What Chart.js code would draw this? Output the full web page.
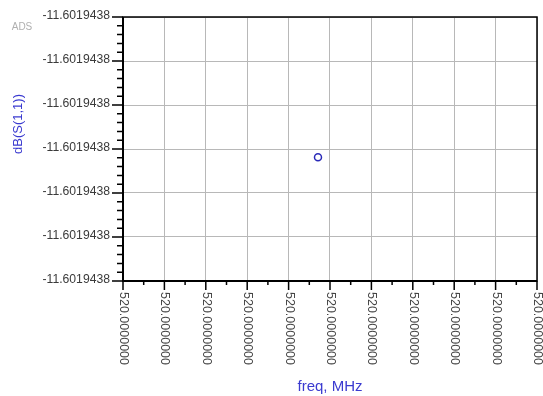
<!DOCTYPE html>
<html>
<head>
<meta charset="utf-8">
<script src="https://cdn.jsdelivr.net/npm/chart.js@4"></script>
<style>
  html, body { margin: 0; padding: 0; background: #fff; }
  #wrap { width: 543px; height: 396px; }
</style>
</head>
<body>
<div id="wrap"><canvas id="c" width="543" height="396"></canvas></div>
<script>
// data
const freq = [520.0];
const dB = [-11.6019438];

// tick labels as printed on the axes
const xTickLabels = ["520.0000000", "520.0000000", "520.0000000", "520.0000000", "520.0000000", "520.0000000",
  "520.0000000", "520.0000000", "520.0000000", "520.0000000", "520.0000000"];
const yTickLabels = ["-11.6019438", "-11.6019438", "-11.6019438", "-11.6019438", "-11.6019438", "-11.6019438", "-11.6019438"];

// axis ranges (tiny spans, the labels are all rounded to the same value)
const xMin = 520.0 - 4.71e-9, xMax = 520.0 + 5.29e-9;
const yMin = -11.6019438 - 2.81e-9, yMax = -11.6019438 + 3.19e-9;

const FONT = "'Liberation Sans', Arial, sans-serif";

function evenTicks(min, max, n) {
  const out = [];
  for (let i = 0; i < n; i++) out.push({ value: min + i * (max - min) / (n - 1) });
  return out;
}

// frame, ADS style ticks and labels
const adsAxes = {
  id: 'adsAxes',
  afterDraw(chart) {
    const ctx = chart.ctx;
    const a = chart.chartArea;
    const xs = chart.scales.x, ys = chart.scales.y;
    ctx.save();
    ctx.strokeStyle = '#000';

    // frame
    ctx.lineWidth = 1.5;
    ctx.strokeRect(a.left, a.top, a.right - a.left, a.bottom - a.top);
    ctx.lineWidth = 2;
    ctx.beginPath();
    ctx.moveTo(a.left, a.top);
    ctx.lineTo(a.left, a.bottom);
    ctx.lineTo(a.right, a.bottom);
    ctx.stroke();

    // y ticks
    ctx.lineWidth = 1.5;
    const yt = ys.ticks;
    ctx.beginPath();
    yt.forEach((t, i) => {
      const y = ys.getPixelForValue(t.value);
      ctx.moveTo(a.left - 11, y); ctx.lineTo(a.left, y);
      if (i < yt.length - 1) {
        const y2 = ys.getPixelForValue(yt[i + 1].value);
        for (let k = 1; k < 5; k++) {
          const ym = y + (y2 - y) * k / 5;
          ctx.moveTo(a.left - 6, ym); ctx.lineTo(a.left, ym);
        }
      }
    });
    // x ticks
    const xt = xs.ticks;
    xt.forEach((t, i) => {
      const x = xs.getPixelForValue(t.value);
      ctx.moveTo(x, a.bottom); ctx.lineTo(x, a.bottom + 9);
      if (i < xt.length - 1) {
        const xm = (x + xs.getPixelForValue(xt[i + 1].value)) / 2;
        ctx.moveTo(xm, a.bottom); ctx.lineTo(xm, a.bottom + 4);
      }
    });
    ctx.stroke();

    // tick labels
    ctx.fillStyle = '#3a3a3a';
    ctx.font = '12.2px ' + FONT;
    ctx.textAlign = 'right';
    ctx.textBaseline = 'middle';
    yt.forEach((t, i) => {
      ctx.fillText(yTickLabels[yt.length - 1 - i], a.left - 13, ys.getPixelForValue(t.value) - 1);
    });
    ctx.fillStyle = '#454545';
    ctx.font = '12.5px ' + FONT;
    ctx.textAlign = 'left';
    xt.forEach((t, i) => {
      const x = xs.getPixelForValue(t.value);
      ctx.save();
      ctx.translate(x + 0.5, a.bottom + 11);
      ctx.rotate(Math.PI / 2);
      ctx.fillText(xTickLabels[i], 0, 0);
      ctx.restore();
    });

    // axis titles
    ctx.fillStyle = '#3b3bd0';
    ctx.font = '15px ' + FONT;
    ctx.textAlign = 'center';
    ctx.fillText('freq, MHz', (a.left + a.right) / 2, 387);
    ctx.save();
    ctx.translate(18, 124);
    ctx.rotate(-Math.PI / 2);
    ctx.font = '13px ' + FONT;
    ctx.fillText('dB(S(1,1))', 0, 0);
    ctx.restore();

    // ADS tag
    ctx.fillStyle = '#b0b0b0';
    ctx.font = '10px ' + FONT;
    ctx.fillText('ADS', 22, 27);
    ctx.restore();
  }
};

new Chart(document.getElementById('c'), {
  type: 'scatter',
  data: {
    datasets: [{
      label: 'dB(S(1,1))',
      data: freq.map((f, i) => ({ x: f, y: dB[i] })),
      pointStyle: 'circle',
      pointRadius: 3.5,
      pointBorderWidth: 1.5,
      pointBorderColor: '#2a2ab8',
      pointBackgroundColor: '#ffffff'
    }]
  },
  options: {
    responsive: false,
    animation: false,
    layout: { padding: { top: 17, right: 6, left: 0, bottom: 0 } },
    plugins: { legend: { display: false }, tooltip: { enabled: false } },
    scales: {
      x: {
        type: 'linear',
        min: xMin,
        max: xMax,
        afterBuildTicks: s => { s.ticks = evenTicks(xMin, xMax, xTickLabels.length); },
        afterFit: s => { s.height = 115; },
        ticks: { display: false, autoSkip: false },
        grid: { color: '#b8b8b8', lineWidth: 1, drawTicks: false },
        border: { display: false }
      },
      y: {
        type: 'linear',
        min: yMin,
        max: yMax,
        afterBuildTicks: s => { s.ticks = evenTicks(yMin, yMax, yTickLabels.length); },
        afterFit: s => { s.width = 123; },
        ticks: { display: false, autoSkip: false },
        grid: { color: '#b8b8b8', lineWidth: 1, drawTicks: false },
        border: { display: false }
      }
    }
  },
  plugins: [adsAxes]
});
</script>
</body>
</html>
